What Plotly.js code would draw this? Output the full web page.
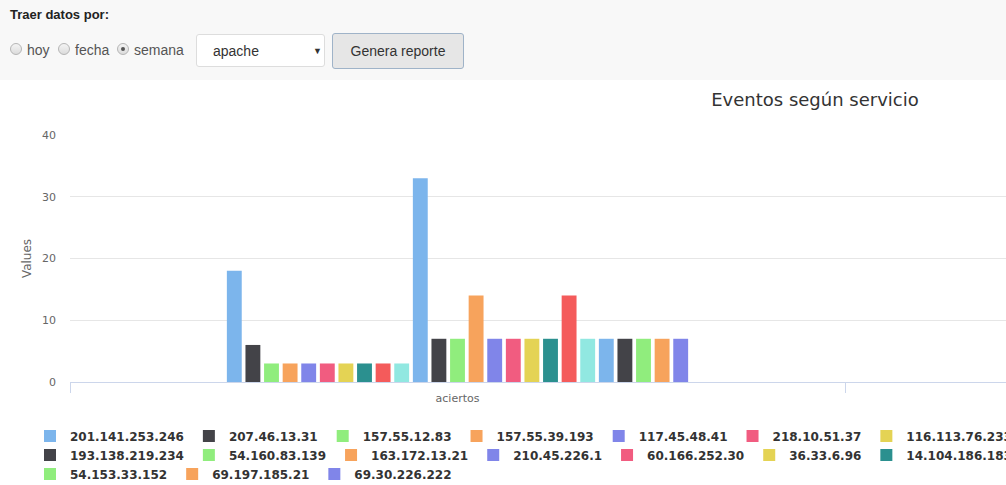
<!DOCTYPE html>
<html>
<head>
<meta charset="utf-8">
<script src="https://cdn.plot.ly/plotly-3.0.1.min.js"></script>
<style>
  html, body { margin:0; padding:0; width:1006px; height:485px; overflow:hidden; background:#fff; }
  #form { position:absolute; left:0; top:0; width:1006px; height:80px; background:#f8f8f8; font-family:"Liberation Sans", Arial, sans-serif; }
  #lbl { position:absolute; left:10px; top:7px; font-size:13px; font-weight:bold; color:#222; }
  .radio { position:absolute; top:43px; width:10px; height:10px; border-radius:50%; border:1px solid #b5b5b5; background:linear-gradient(#f4f4f4,#dcdcdc); }
  .radio.on::after { content:""; position:absolute; left:3px; top:3px; width:4px; height:4px; border-radius:50%; background:#555; }
  .rt { position:absolute; top:42px; font-size:14px; color:#555; }
  #sel { position:absolute; left:196px; top:34px; width:129px; height:33px; background:#fff; border:1px solid #ddd; border-radius:3px; box-sizing:border-box; font-size:14px; color:#333; }
  #sel span.t { position:absolute; left:16px; top:8px; }
  #sel span.a { position:absolute; left:116px; font-size:9px; top:11px; }
  #btn { position:absolute; left:332px; top:33px; width:132px; height:36px; box-sizing:border-box; background:#e6e6e6; border:1px solid #9fb3c8; border-radius:3px; font-size:14px; color:#333; text-align:center; line-height:34px; }
  #chart { position:absolute; left:0; top:80px; width:1640px; height:405px; }
</style>
</head>
<body>
<div id="form">
  <div id="lbl">Traer datos por:</div>
  <div class="radio" style="left:10px"></div><div class="rt" style="left:27px">hoy</div>
  <div class="radio" style="left:58px"></div><div class="rt" style="left:75px">fecha</div>
  <div class="radio on" style="left:117px"></div><div class="rt" style="left:134px">semana</div>
  <div id="sel"><span class="t">apache</span><span class="a">&#9660;</span></div>
  <div id="btn">Genera reporte</div>
</div>
<div id="chart"></div>
<script>
const categories = ['aciertos'];
const seriesNames = [
  '201.141.253.246', '207.46.13.31', '157.55.12.83', '157.55.39.193', '117.45.48.41',
  '218.10.51.37', '116.113.76.233', 'ip-08', 'ip-09', 'ip-10', 'ip-11',
  '193.138.219.234', '54.160.83.139', '163.172.13.21', '210.45.226.1', '60.166.252.30',
  '36.33.6.96', '14.104.186.183', 'ip-19', 'ip-20', 'ip-21', 'ip-22',
  '54.153.33.152', '69.197.185.21', '69.30.226.222'
];
const seriesValues = [18, 6, 3, 3, 3, 3, 3, 3, 3, 3, 33, 7, 7, 14, 7, 7, 7, 7, 14, 7, 7, 7, 7, 7, 7];
const palette = ['#7cb5ec', '#434348', '#90ed7d', '#f7a35c', '#8085e9', '#f15c80', '#e4d354', '#2b908f', '#f45b5b', '#91e8e1'];
const titleText = 'Eventos según servicio';
const yTitle = 'Values';

const FW = 1640, FH = 405, PER_ROW = 11;
const legendKeys = ['legend', 'legend2', 'legend3'];

const traces = seriesNames.map((name, i) => ({
  type: 'bar',
  x: categories,
  y: [seriesValues[i]],
  name: name,
  marker: { color: palette[i % palette.length], line: { width: 0 } },
  legend: legendKeys[Math.floor(i / PER_ROW)],
  hoverinfo: 'name+y'
}));

const legendFont = { family: 'DejaVu Sans', size: 12, color: '#333333', weight: 'bold' };
const rowCenters = [356, 375, 394];
function mkLegend(r) {
  return {
    orientation: 'h', xref: 'container', yref: 'container',
    x: 30 / FW, y: 1 - rowCenters[r] / FH, xanchor: 'left', yanchor: 'middle',
    font: legendFont, bgcolor: 'rgba(0,0,0,0)', borderwidth: 0, traceorder: 'normal'
  };
}

const axisFont = { family: 'DejaVu Sans', size: 11, color: '#666666' };
const layout = {
  width: FW, height: FH,
  margin: { l: 70, r: 20, t: 55, b: 103, autoexpand: false },
  paper_bgcolor: '#ffffff', plot_bgcolor: '#ffffff',
  barmode: 'group', bargap: 0.4, bargroupgap: 0.2,
  title: {
    text: titleText, font: { family: 'DejaVu Sans', size: 18, color: '#333333' },
    xref: 'container', yref: 'container', x: 815 / FW, y: 1 - 20 / FH, xanchor: 'center', yanchor: 'middle'
  },
  xaxis: {
    type: 'category', range: [-0.5, 1.5], tickson: 'boundaries', ticks: 'outside', ticklen: 10,
    tickcolor: '#ccd6eb', tickwidth: 1, showline: true, linecolor: '#ccd6eb', linewidth: 1,
    showgrid: false, zeroline: false, tickfont: axisFont, ticklabelstandoff: 6, fixedrange: true
  },
  yaxis: {
    range: [0, 40], dtick: 10, tick0: 0, gridcolor: '#e6e6e6', gridwidth: 1, zeroline: false,
    showline: false, ticks: '', tickfont: axisFont, ticklabelstandoff: 13, fixedrange: true,
    title: { text: yTitle, font: { family: 'DejaVu Sans', size: 12, color: '#666666' }, standoff: 7 }
  },
  legend: mkLegend(0), legend2: mkLegend(1), legend3: mkLegend(2),
  showlegend: true
};

Plotly.newPlot('chart', traces, layout, { displayModeBar: false, responsive: false });
</script>
</body>
</html>
